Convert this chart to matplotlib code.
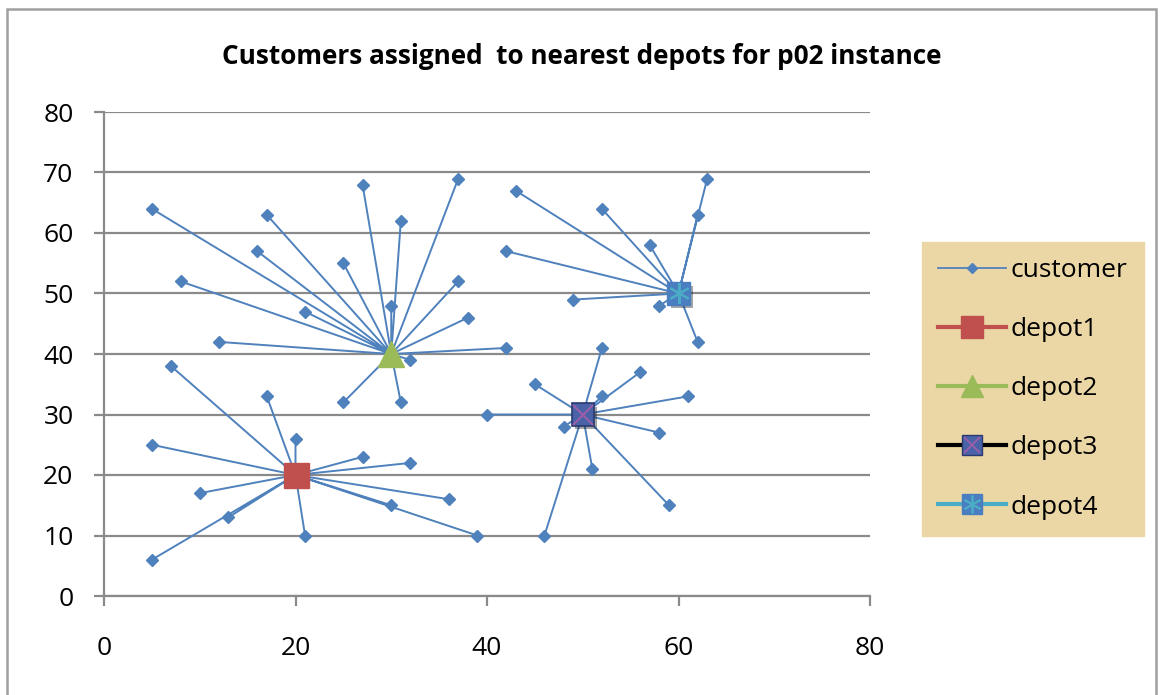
import matplotlib.pyplot as plt
import matplotlib.patheffects as pe
from matplotlib.lines import Line2D
from matplotlib.patches import Rectangle
import numpy as np

plt.rcParams['font.family'] = ['Open Sans', 'DejaVu Sans']

# p02 instance: customer coordinates and the depot each one is assigned to
cust_x = [37, 49, 52, 20, 40, 21, 17, 31, 52, 51, 42, 31, 5, 12, 36, 52, 27,
          17, 13, 57, 62, 42, 16, 8, 7, 27, 30, 43, 58, 58, 37, 38, 46, 61,
          62, 63, 32, 45, 59, 5, 10, 21, 5, 30, 39, 32, 25, 25, 48, 56]
cust_y = [52, 49, 64, 26, 30, 47, 63, 62, 33, 21, 41, 32, 25, 42, 16, 41, 23,
          33, 13, 58, 42, 57, 57, 52, 38, 68, 48, 67, 48, 27, 69, 46, 10, 33,
          63, 69, 22, 35, 15, 6, 17, 10, 64, 15, 10, 39, 32, 55, 28, 37]
assigned = [2, 4, 4, 1, 3, 2, 2, 2, 3, 3, 2, 2, 1, 2, 1, 3, 1,
            1, 1, 4, 4, 4, 2, 2, 1, 2, 2, 4, 4, 3, 2, 2, 3, 3,
            4, 4, 1, 3, 3, 1, 1, 1, 2, 1, 1, 2, 2, 2, 3, 3]

depot_names = ["depot1", "depot2", "depot3", "depot4"]
depot_x = [20, 30, 50, 60]
depot_y = [20, 40, 30, 50]

blue = '#4F81BD'
grid_gray = '#8a8a8a'

fig = plt.figure(figsize=(11.62, 6.95), dpi=100)
ax = fig.add_axes([104 / 1162, 99 / 695, 766 / 1162, 484 / 695])

# one line per customer, from its depot out to the customer
seg_x, seg_y = [], []
for cx, cy, d in zip(cust_x, cust_y, assigned):
    seg_x += [depot_x[d - 1], cx, np.nan]
    seg_y += [depot_y[d - 1], cy, np.nan]
ax.plot(seg_x, seg_y, color=blue, lw=1.4, zorder=3)
ax.plot(cust_x, cust_y, 'D', color=blue, ms=6, zorder=4)

shadow = [pe.SimplePatchShadow(offset=(2.5, -2.5), shadow_rgbFace='k', alpha=0.35), pe.Normal()]

ax.plot(depot_x[0], depot_y[0], 's', ms=18, mfc='#C0504D', mec='#C0504D', zorder=6)
ax.plot(depot_x[1], depot_y[1], '^', ms=19, mfc='#9BBB59', mec='#9BBB59', zorder=6)
ax.plot(depot_x[2], depot_y[2], 's', ms=16, mfc='#4A62A8', mec='#2A3A70', mew=1.2,
        zorder=6, path_effects=shadow)
ax.plot(depot_x[2], depot_y[2], 'x', ms=14, mec='#9A5FA8', mew=1.5, zorder=7)
ax.plot(depot_x[3], depot_y[3], 's', ms=16, mfc='#4A7EC0', mec='#4A7EC0',
        zorder=6, path_effects=shadow)
ax.plot(depot_x[3], depot_y[3], marker=(6, 2, 0), ms=15, mec='#4BACC6', mew=1.5, zorder=7)

ax.set_xlim(0, 80)
ax.set_ylim(0, 80)
ax.set_xticks(np.arange(0, 81, 20))
ax.set_yticks(np.arange(0, 81, 10))
ax.yaxis.grid(True, color=grid_gray, lw=1.6)
ax.set_axisbelow(True)
for side in ['top', 'right']:
    ax.spines[side].set_visible(False)
for side in ['left', 'bottom']:
    ax.spines[side].set_color(grid_gray)
    ax.spines[side].set_linewidth(1.6)
ax.tick_params(axis='both', colors=grid_gray, width=1.6, length=7, labelsize=19,
               labelcolor='black')
ax.tick_params(axis='y', pad=15)
ax.tick_params(axis='x', pad=22)

fig.text(0.5008, 0.918, "Customers assigned  to nearest depots for p02 instance",
         ha='center', va='center', fontsize=18.8, fontweight='bold')

handles = [
    Line2D([], [], color=blue, lw=1.3, marker='D', ms=5),
    Line2D([], [], color='#C0504D', lw=3, marker='s', ms=16, mfc='#C0504D', mec='#C0504D'),
    Line2D([], [], color='#9BBB59', lw=3, marker='^', ms=16, mfc='#9BBB59', mec='#9BBB59'),
    (Line2D([], [], color='black', lw=3, marker='s', ms=15, mfc='#4A62A8', mec='#2A3A70'),
     Line2D([], [], ls='none', marker='x', ms=12, mec='#9A5FA8', mew=1.3)),
    (Line2D([], [], color='#4BACC6', lw=3, marker='s', ms=15, mfc='#4A7EC0', mec='#4A7EC0'),
     Line2D([], [], ls='none', marker=(6, 2, 0), ms=13, mec='#4BACC6', mew=1.3)),
]
leg = fig.legend(handles, ["customer"] + depot_names, loc='upper left',
                 bbox_to_anchor=(922 / 1162, 1 - 242 / 695), fontsize=19,
                 frameon=True, fancybox=False, handlelength=2.55, handletextpad=0.2,
                 labelspacing=1.29, borderpad=0.62, borderaxespad=0)
leg.get_frame().set_facecolor('#EBD7A6')
leg.get_frame().set_edgecolor('#EBD7A6')
leg.get_frame().set_alpha(1)

# chart area border
fig.add_artist(Rectangle((7 / 1162, -0.05), 1149 / 1162, 1.05 - 9 / 695,
                         transform=fig.transFigure, fill=False,
                         edgecolor='#a0a0a0', lw=1.8))

fig.savefig('out.png', dpi=100)
